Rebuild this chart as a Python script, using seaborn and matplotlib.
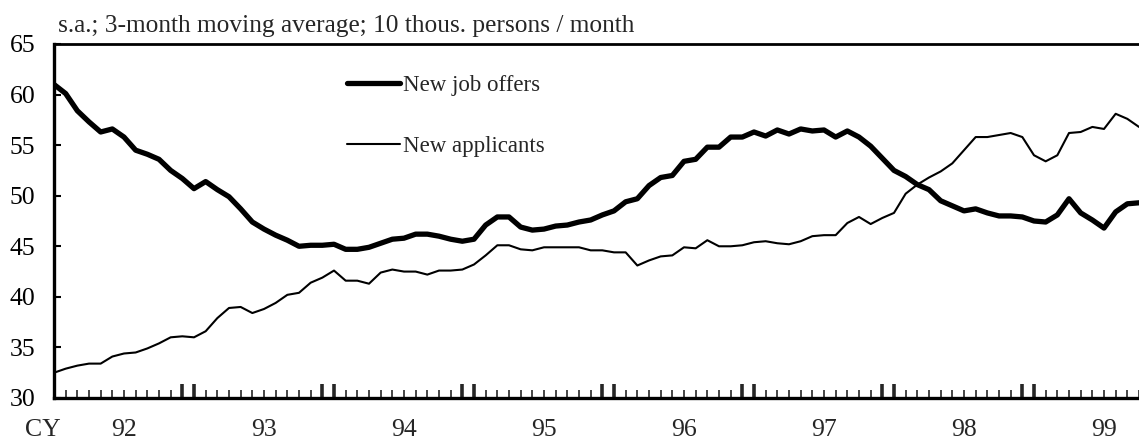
import numpy as np
import pandas as pd
import matplotlib
matplotlib.use("Agg")
import matplotlib.pyplot as plt
import matplotlib.transforms as mtransforms
import seaborn as sns

# ---- data (monthly, Jan 1992 onward; s.a., 3-month moving average; 10 thous. persons / month)
job_offers = [61.0, 60.1, 58.4, 57.3, 56.3, 56.6, 55.8, 54.5, 54.1, 53.6, 52.5, 51.7,
              50.7, 51.4, 50.6, 49.9, 48.7, 47.4, 46.7, 46.1, 45.6, 45.0, 45.1, 45.1,
              45.2, 44.7, 44.7, 44.9, 45.3, 45.7, 45.8, 46.2, 46.2, 46.0, 45.7, 45.5,
              45.7, 47.1, 47.9, 47.9, 46.9, 46.6, 46.7, 47.0, 47.1, 47.4, 47.6, 48.1,
              48.5, 49.4, 49.7, 51.0, 51.8, 52.0, 53.4, 53.6, 54.8, 54.8, 55.8, 55.8,
              56.3, 55.9, 56.5, 56.1, 56.6, 56.4, 56.5, 55.8, 56.4, 55.8, 54.9, 53.7,
              52.5, 51.9, 51.1, 50.6, 49.5, 49.0, 48.5, 48.7, 48.3, 48.0, 48.0, 47.9,
              47.5, 47.4, 48.1, 49.7, 48.3, 47.6, 46.8, 48.4, 49.2, 49.3]
applicants = [32.5, 32.9, 33.2, 33.4, 33.4, 34.1, 34.4, 34.5, 34.9, 35.4, 36.0, 36.1,
              36.0, 36.6, 37.9, 38.9, 39.0, 38.4, 38.8, 39.4, 40.2, 40.4, 41.4, 41.9,
              42.6, 41.6, 41.6, 41.3, 42.4, 42.7, 42.5, 42.5, 42.2, 42.6, 42.6, 42.7,
              43.2, 44.1, 45.1, 45.1, 44.7, 44.6, 44.9, 44.9, 44.9, 44.9, 44.6, 44.6,
              44.4, 44.4, 43.1, 43.6, 44.0, 44.1, 44.9, 44.8, 45.6, 45.0, 45.0, 45.1,
              45.4, 45.5, 45.3, 45.2, 45.5, 46.0, 46.1, 46.1, 47.3, 47.9, 47.2, 47.8,
              48.3, 50.2, 51.1, 51.8, 52.4, 53.2, 54.5, 55.8, 55.8, 56.0, 56.2, 55.8,
              54.0, 53.4, 54.0, 56.2, 56.3, 56.8, 56.6, 58.1, 57.6, 56.8]
year_labels = ["92", "93", "94", "95", "96", "97", "98", "99"]
series_names = ["New job offers", "New applicants"]
y_ticks = [30, 35, 40, 45, 50, 55, 60, 65]
title_text = "s.a.; 3-month moving average; 10 thous. persons / month"

month_idx = np.arange(len(job_offers))
df = pd.DataFrame({
    "month": np.concatenate([month_idx, month_idx]),
    "value": job_offers + applicants,
    "series": [series_names[0]] * len(job_offers) + [series_names[1]] * len(applicants),
})

sns.set_style("white")
plt.rcParams["font.family"] = ["Liberation Serif", "DejaVu Serif"]

W, H = 1139, 446
fig = plt.figure(figsize=(W / 100, H / 100), dpi=100)
ax = fig.add_axes([54 / W, 1 - 398 / H, 1 - 54 / W, (398 - 44) / H])

sns.lineplot(data=df[df.series == series_names[0]], x="month", y="value",
             color="black", linewidth=3.8, ax=ax, label=series_names[0])
sns.lineplot(data=df[df.series == series_names[1]], x="month", y="value",
             color="black", linewidth=1.5, ax=ax, label=series_names[1])

n = len(job_offers)
ax.set_xlim(0, n - 1)
ax.set_ylim(30, 65)
ax.set_xlabel("")
ax.set_ylabel("")

# y axis
ax.set_yticks(y_ticks)
ax.set_yticklabels([str(v) for v in y_ticks])
ax.tick_params(axis="y", direction="in", length=5, width=1.5, pad=13.5,
               labelsize=18.5, left=True, colors="black")

# x axis: thin monthly ticks, thick paired ticks at year boundaries
thick = []
for k in range(1, len(year_labels) + 1):
    thick += [12 * k - 1, 12 * k]
thick = [t for t in thick if t <= n - 1]
thin = [m for m in month_idx if m not in thick]
ax.set_xticks(thin)
ax.set_xticks(thick, minor=True)
ax.set_xticklabels([])
ax.tick_params(axis="x", which="major", direction="in", length=5.5, width=1.2,
               bottom=True, labelbottom=False)
ax.tick_params(axis="x", which="minor", direction="in", length=10, width=2.6,
               bottom=True, labelbottom=False)

sec = ax.secondary_xaxis("bottom")
sec.set_xticks([6 + 12 * k for k in range(len(year_labels))])
sec.set_xticklabels(year_labels)
sec.tick_params(length=0, pad=15, labelsize=18.5)
sec.spines["bottom"].set_visible(False)

trans = mtransforms.blended_transform_factory(ax.transData, ax.transAxes)
trans_cy = mtransforms.offset_copy(trans, fig=fig, y=-15, units="points")
ax.text(-0.95, 0.0, "CY", transform=trans_cy, ha="center", va="top",
        fontsize=18.5, clip_on=False)

# spines
for s in ["left", "bottom"]:
    ax.spines[s].set_linewidth(2.4)
    ax.spines[s].set_color("black")
ax.spines["top"].set_linewidth(2.0)
ax.spines["top"].set_color("black")
ax.spines["right"].set_visible(False)

# title
fig.text(58 / W, 1 - 26 / H, title_text, ha="left", va="center", fontsize=18.3)

# legend
leg = ax.legend(loc="upper left", bbox_to_anchor=(347 / W, 1 - 75 / H),
                bbox_transform=fig.transFigure, frameon=False, fontsize=16.5,
                handlelength=2.3, handletextpad=0.15, labelspacing=1.73,
                borderpad=0, borderaxespad=0)

fig.savefig("out.png", dpi=100)
